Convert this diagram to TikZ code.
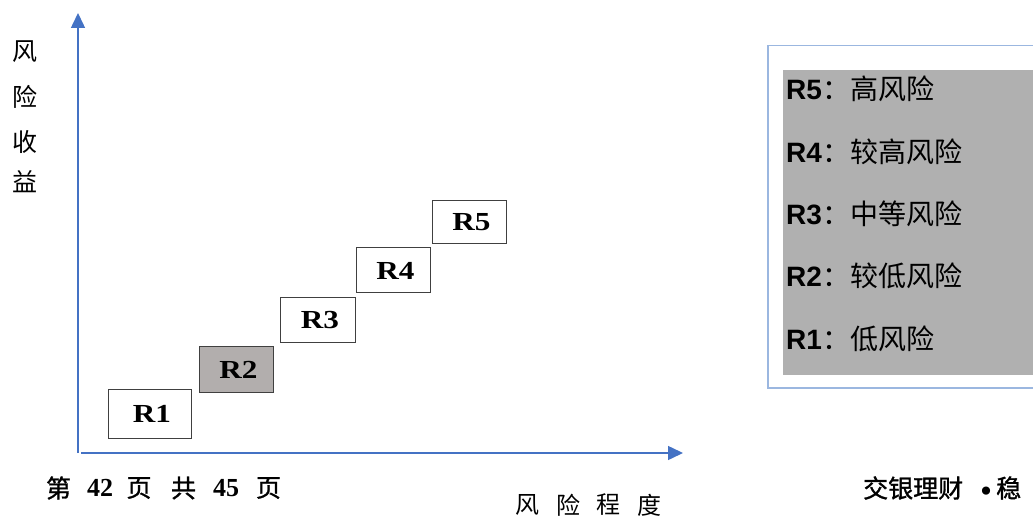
\documentclass[tikz,border=0pt]{standalone}
\usepackage{fontspec}
\setmainfont{Liberation Serif}
\newfontfamily\cjk{Noto Sans CJK SC}
\newfontfamily\cjkb[FakeBold=1.2]{Noto Sans CJK SC}
\newfontfamily\arialf{Liberation Sans}
\newfontfamily\dejavu{DejaVu Sans}
\usetikzlibrary{arrows.meta}
\definecolor{axisblue}{RGB}{68,114,196}
\definecolor{legendblue}{RGB}{155,183,224}
\definecolor{legendgray}{RGB}{176,176,176}
\definecolor{rtwogray}{RGB}{178,174,173}
\definecolor{boxline}{RGB}{64,64,64}
\newcommand{\rlab}[1]{\hspace{5pt}\scalebox{1.2}[1.0]{#1}}
\tikzset{
  axis/.style={draw=axisblue, line width=1.5pt, -{Triangle[length=15pt,width=14pt]}},
  rbox/.style={draw=boxline, line width=1pt, fill=white, inner sep=0pt,
    font=\fontsize{26}{26}\selectfont\bfseries},
  legtext/.style={anchor=west, inner sep=0pt, font=\fontsize{28}{28}\selectfont},
  cjklab/.style={inner sep=0pt, font=\cjk\fontsize{25}{25}\selectfont},
  pagelab/.style={inner sep=0pt, font=\cjkb\fontsize{25}{25}\selectfont},
  numlab/.style={inner sep=0pt, font=\fontsize{26}{26}\selectfont\bfseries},
  brandlab/.style={anchor=west, inner sep=0pt, font=\cjkb\fontsize{25}{25}\selectfont},
}
\begin{document}
\begin{tikzpicture}[x=1pt,y=-1pt]
\useasboundingbox (0,0) rectangle (1033,518);
% axes
\coordinate (yorig) at (78,453);
\coordinate (ytip) at (78,13);
\coordinate (xorig) at (81,453);
\coordinate (xtip) at (683,453);
\draw[axis] (yorig) -- (ytip);
\draw[axis] (xorig) -- (xtip);
% y label
\node[cjklab] (y1) at (25,52) {风};
\node[cjklab] (y2) at (25,97) {险};
\node[cjklab] (y3) at (25,142) {收};
\node[cjklab] (y4) at (25,182) {益};
% x label
\node[cjklab, font=\cjk\fontsize{24}{24}\selectfont] (x1) at (527,505) {风};
\node[cjklab, font=\cjk\fontsize{24}{24}\selectfont] (x2) at (568,505) {险};
\node[cjklab, font=\cjk\fontsize{24}{24}\selectfont] (x3) at (608,505) {程};
\node[cjklab, font=\cjk\fontsize{24}{24}\selectfont] (x4) at (649,505) {度};
% page footer
\node[pagelab] (p1) at (58.5,488) {第};
\node[numlab] (p2) at (100,488) {42};
\node[pagelab] (p3) at (139,488) {页};
\node[pagelab] (p4) at (183.5,488) {共};
\node[numlab] (p5) at (226,488) {45};
\node[pagelab] (p6) at (268.5,488) {页};
% risk boxes
\node[rbox, minimum width=83pt, minimum height=49pt] (r1) at (149.5,413.5) {\rlab{R1}};
\node[rbox, fill=rtwogray, minimum width=74pt, minimum height=45pt] (r2) at (236,369.5) {\rlab{R2}};
\node[rbox, minimum width=75pt, minimum height=45pt] (r3) at (317.5,320.5) {\rlab{R3}};
\node[rbox, minimum width=74pt, minimum height=45pt] (r4) at (393,270.5) {\rlab{R4}};
\node[rbox, minimum width=74pt, minimum height=43pt] (r5) at (469,222.5) {\rlab{R5}};
% legend
\node[draw=legendblue, line width=1.5pt, anchor=north west, minimum width=300pt, minimum height=342pt, inner sep=0pt] (legend) at (767,45) {};
\node[fill=legendgray, anchor=north west, minimum width=280pt, minimum height=305pt, inner sep=0pt] (legbg) at (783,70) {};
\node[legtext] (l5) at (786,89) {{\arialf\bfseries R5}{\cjk：高风险}};
\node[legtext] (l4) at (786,152) {{\arialf\bfseries R4}{\cjk：较高风险}};
\node[legtext] (l3) at (786,214) {{\arialf\bfseries R3}{\cjk：中等风险}};
\node[legtext] (l2) at (786,276) {{\arialf\bfseries R2}{\cjk：较低风险}};
\node[legtext] (l1) at (786,339) {{\arialf\bfseries R1}{\cjk：低风险}};
% brand footer
\node[brandlab] (brand) at (863,488) {交银理财};
\node[inner sep=0pt, font=\dejavu\fontsize{28}{28}\selectfont] (dot) at (986,494) {•};
\node[brandlab] (brand2) at (996,488) {稳};
\end{tikzpicture}
\end{document}
